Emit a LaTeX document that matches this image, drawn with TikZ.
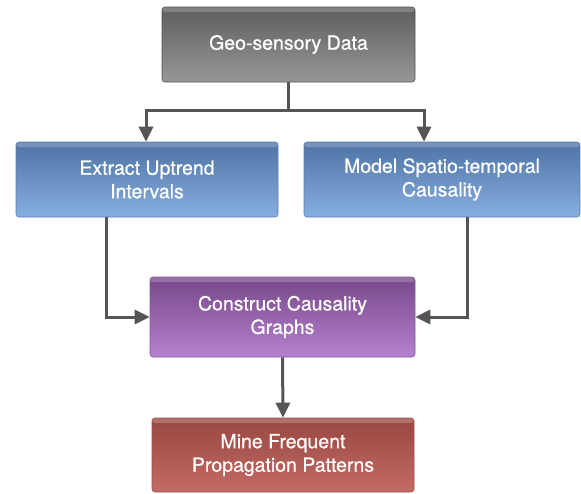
\documentclass[tikz,border=0pt]{standalone}
\usepackage{fontspec}
\setmainfont[FakeBold=0.6]{TeX Gyre Heros}
\usetikzlibrary{arrows.meta}
\definecolor{gtop}{HTML}{5E5E5E}
\definecolor{gbot}{HTML}{979797}
\definecolor{gdraw}{HTML}{555555}
\definecolor{btop}{HTML}{4E73A5}
\definecolor{bbot}{HTML}{87AFE0}
\definecolor{bdraw}{HTML}{5A7FB0}
\definecolor{ptop}{HTML}{784889}
\definecolor{pbot}{HTML}{B680D0}
\definecolor{pdraw}{HTML}{8A5A9E}
\definecolor{rtop}{HTML}{984742}
\definecolor{rbot}{HTML}{C36C64}
\definecolor{rdraw}{HTML}{9A4F49}
\definecolor{arrowc}{HTML}{555555}
\tikzset{
  boxbase/.style={rounded corners=3pt, inner sep=0pt, align=center, text=white,
    font=\fontsize{19.5}{23.5}\selectfont, line width=0.6pt,
    path picture={\fill[white,opacity=0.22] (path picture bounding box.north west) rectangle ([yshift=-5pt]path picture bounding box.north east);}},
  graybox/.style={boxbase, top color=gtop, bottom color=gbot, draw=gdraw},
  bluebox/.style={boxbase, top color=btop, bottom color=bbot, draw=bdraw},
  purplebox/.style={boxbase, top color=ptop, bottom color=pbot, draw=pdraw},
  redbox/.style={boxbase, top color=rtop, bottom color=rbot, draw=rdraw},
  conn/.style={line width=3pt, draw=arrowc, -{Triangle[length=15pt,width=14pt]}}
}
\begin{document}
\begin{tikzpicture}[x=1pt,y=-1pt]
\useasboundingbox (0,0) rectangle (581,493);
\node[graybox, minimum width=253pt, minimum height=75pt] (geo) at (288.5,44.5) {Geo-sensory Data};
\node[bluebox, minimum width=262pt, minimum height=75pt] (ext) at (147,179.5) {Extract Uptrend\\Intervals};
\node[bluebox, minimum width=276pt, minimum height=75pt] (mod) at (442,179.5) {Model Spatio-temporal\\Causality};
\node[purplebox, minimum width=265pt, minimum height=80pt] (con) at (282.5,317) {Construct Causality\\Graphs};
\node[redbox, minimum width=262pt, minimum height=74pt] (mine) at (283,455) {Mine Frequent\\Propagation Patterns};
\coordinate (jl) at (146,110);
\coordinate (jr) at (424,110);
\coordinate (xa) at (106,0);
\coordinate (xb) at (467,0);
\draw[conn] (geo.south) |- (jl) -- (jl |- ext.north);
\draw[conn] (geo.south) |- (jr) -- (jr |- mod.north);
\draw[conn] (ext.south -| xa) |- (con.west);
\draw[conn] (mod.south -| xb) |- (con.east);
\draw[conn] (con.south) -- (mine.north);
\end{tikzpicture}
\end{document}
